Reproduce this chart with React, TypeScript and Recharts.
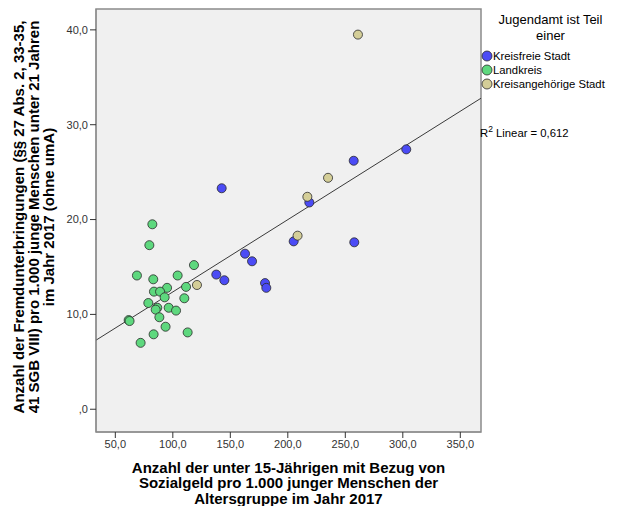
import React from "react";
import {
  ScatterChart,
  Scatter,
  XAxis,
  YAxis,
  ZAxis,
  ReferenceArea,
  ReferenceLine,
  Label,
} from "recharts";

// ---- data ----
const kreisfreieX = [142.5, 257.3, 303.0, 218.7, 205.1, 257.8, 162.8, 168.9, 137.8, 144.8, 180.2, 181.3];
const kreisfreieY = [23.3, 26.2, 27.4, 21.8, 17.7, 17.6, 16.4, 15.6, 14.2, 13.6, 13.3, 12.8];

const landkreisX = [82.2, 79.6, 118.4, 68.8, 104.2, 83.0, 111.5, 95.0, 83.6, 88.9, 92.9, 110.0, 78.7, 86.5, 85.1, 96.4, 102.8, 61.6, 62.4, 88.3, 93.7, 112.9, 83.3, 72.0];
const landkreisY = [19.5, 17.3, 15.2, 14.1, 14.1, 13.7, 12.9, 12.8, 12.4, 12.4, 11.8, 11.7, 11.2, 10.7, 10.5, 10.7, 10.4, 9.4, 9.3, 9.7, 8.7, 8.1, 7.9, 7.0];

const kreisangehoerigeX = [261.0, 235.0, 217.0, 208.5, 121.0];
const kreisangehoerigeY = [39.5, 24.4, 22.4, 18.3, 13.1];

const xTicks = [50, 100, 150, 200, 250, 300, 350];
const yTicks = [0, 10, 20, 30, 40];
const xDomain: [number, number] = [33.2, 368];
const yDomain: [number, number] = [-2.4, 42.2];

// fit line (R² Linear = 0,612)
const fitIntercept = 4.75;
const fitSlope = 0.0762;
const rSquared = "0,612";

const groups = ["Kreisfreie Stadt", "Landkreis", "Kreisangehörige Stadt"];
const groupColors = ["#4B4BF5", "#5ED87E", "#D4CE98"];

const legendTitle = ["Jugendamt ist Teil", "einer"];
const xTitle = [
  "Anzahl der unter 15-Jährigen mit Bezug von",
  "Sozialgeld pro 1.000 junger Menschen der",
  "Altersgruppe im Jahr 2017",
];
const yTitle = [
  "Anzahl der Fremdunterbringungen (§§ 27 Abs. 2, 33-35,",
  "41 SGB VIII) pro 1.000 junge Menschen unter 21 Jahren",
  "im Jahr 2017 (ohne umA)",
];

const zip = (xs: number[], ys: number[]) => xs.map((x, i) => ({ x, y: ys[i] }));
const seriesData = [
  zip(kreisfreieX, kreisfreieY),
  zip(landkreisX, landkreisY),
  zip(kreisangehoerigeX, kreisangehoerigeY),
];

const FONT = "'Liberation Sans', Arial, sans-serif";

const fmt = (v: number) => (v === 0 ? ",0" : v.toFixed(1).replace(".", ","));

const XTitle = (props: any) => {
  const vb = props.viewBox || {};
  const cx = vb.x + vb.width / 2;
  const top = vb.y;
  return (
    <g>
      {xTitle.map((t, i) => (
        <text
          key={i}
          x={cx}
          y={top + 35 + i * 15.5}
          textAnchor="middle"
          dominantBaseline="central"
          fontFamily={FONT}
          fontWeight="bold"
          fontSize={15}
          fill="#000"
        >
          {t}
        </text>
      ))}
    </g>
  );
};

const YTitle = (props: any) => {
  const cy = 217;
  return (
    <g>
      {yTitle.map((t, i) => {
        const x = 18.5 + i * 15;
        return (
          <text
            key={i}
            x={x}
            y={cy}
            transform={`rotate(-90, ${x}, ${cy})`}
            textAnchor="middle"
            dominantBaseline="central"
            fontFamily={FONT}
            fontWeight="bold"
            fontSize={15}
            fill="#000"
          >
            {t}
          </text>
        );
      })}
    </g>
  );
};

export default function App() {
  const x0 = xDomain[0];
  const x1 = xDomain[1];
  return (
    <div style={{ position: "absolute", left: 0, top: 0, width: 617, height: 506, background: "#fff" }}>
      <ScatterChart
        width={617}
        height={506}
        margin={{ top: 9, right: 136, left: 0, bottom: 0 }}
      >
        <XAxis
          type="number"
          dataKey="x"
          domain={xDomain}
          ticks={xTicks}
          allowDataOverflow
          tickFormatter={fmt}
          height={74}
          axisLine={{ stroke: "#8a8a8a" }}
          tickLine={{ stroke: "#333" }}
          tickSize={6}
          tick={{ fontSize: 11, fontFamily: FONT, fill: "#333" }}
        >
          <Label content={<XTitle />} />
        </XAxis>
        <YAxis
          type="number"
          dataKey="y"
          domain={yDomain}
          ticks={yTicks}
          allowDataOverflow
          tickFormatter={fmt}
          width={96}
          axisLine={{ stroke: "#8a8a8a" }}
          tickLine={{ stroke: "#333" }}
          tickSize={6}
          tick={{ fontSize: 11, fontFamily: FONT, fill: "#333" }}
        >
          <Label content={<YTitle />} />
        </YAxis>
        <ZAxis range={[55, 55]} />
        <ReferenceArea
          x1={xDomain[0]}
          x2={xDomain[1]}
          y1={yDomain[0]}
          y2={yDomain[1]}
          fill="#F0F0F0"
          fillOpacity={1}
          stroke="#8a8a8a"
          strokeWidth={1.5}
          ifOverflow="visible"
        />
        <ReferenceLine
          segment={[
            { x: x0, y: fitIntercept + fitSlope * x0 },
            { x: x1, y: fitIntercept + fitSlope * x1 },
          ]}
          stroke="#3a3a3a"
          strokeWidth={1}
          ifOverflow="visible"
        />
        {seriesData.map((d, i) => (
          <Scatter
            key={groups[i]}
            name={groups[i]}
            data={d}
            fill={groupColors[i]}
            stroke="#2a2a2a"
            strokeWidth={0.8}
            isAnimationActive={false}
          />
        ))}
      </ScatterChart>

      <div
        style={{
          position: "absolute",
          left: 481,
          top: 12,
          width: 136,
          fontFamily: FONT,
          color: "#000",
        }}
      >
        <div style={{ textAlign: "center", fontSize: 13, lineHeight: "16px", paddingLeft: 3 }}>
          {legendTitle.map((t, i) => (
            <div key={i}>{t}</div>
          ))}
        </div>
        <div style={{ marginTop: 5 }}>
          {groups.map((g, i) => (
            <div
              key={g}
              style={{ display: "flex", alignItems: "center", height: 14, fontSize: 11.3 }}
            >
              <svg width={12} height={12} style={{ marginRight: 0, flexShrink: 0 }}>
                <circle cx={6} cy={6} r={5} fill={groupColors[i]} stroke="#2a2a2a" strokeWidth={0.8} />
              </svg>
              <span style={{ whiteSpace: "nowrap" }}>{g}</span>
            </div>
          ))}
        </div>
        <div style={{ marginTop: 33, fontSize: 11.3, whiteSpace: "nowrap", marginLeft: -1 }}>
          R<sup style={{ fontSize: 8.5 }}>2</sup> Linear = {rSquared}
        </div>
      </div>
    </div>
  );
}
